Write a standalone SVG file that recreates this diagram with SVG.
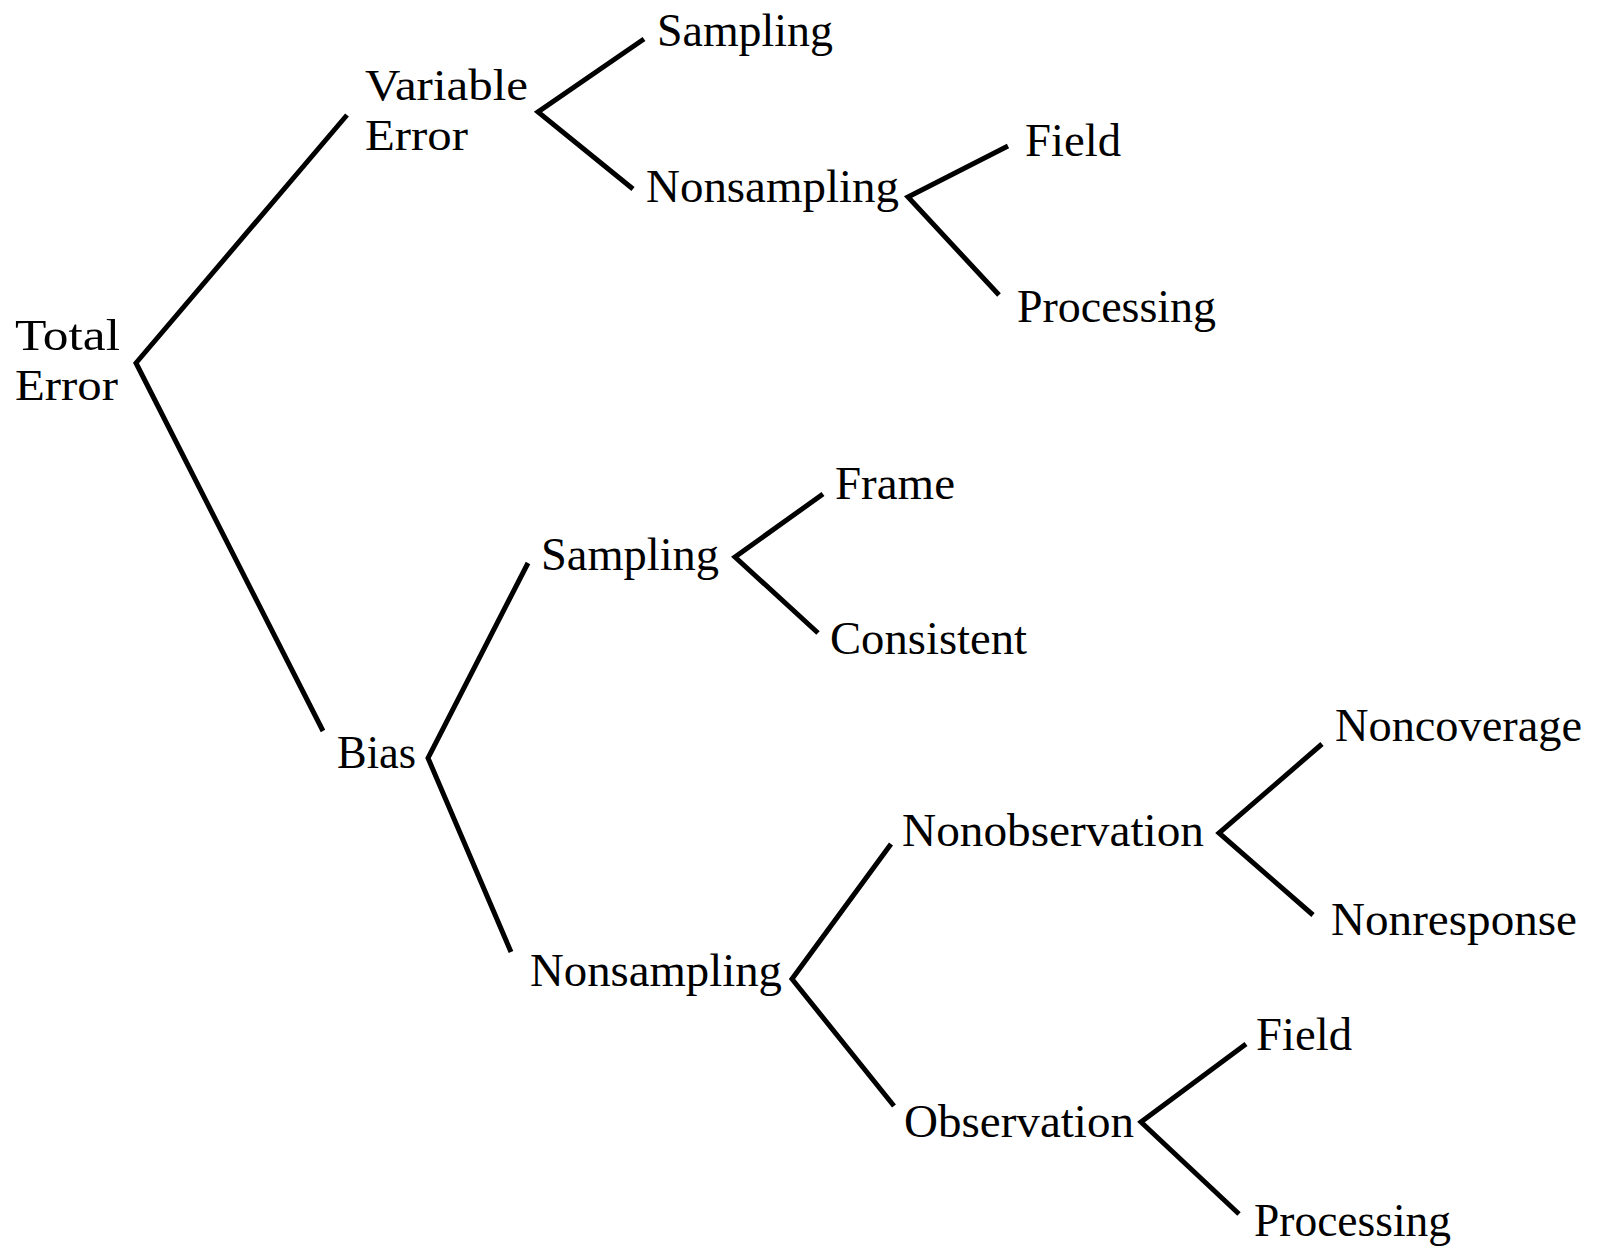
<svg xmlns="http://www.w3.org/2000/svg" width="1602" height="1252" viewBox="0 0 1602 1252">
<style>
.t{font-family:"Liberation Serif","Times New Roman",serif;font-size:47px;fill:#000}
.s{font-size:45px}
.c{fill:none;stroke:#000;stroke-width:5;stroke-linejoin:miter;stroke-linecap:butt}
</style>
<rect width="1602" height="1252" fill="#fff"/>
<g id="connectors">
<polyline class="c" points="347,115 136,363 323,731"/>
<polyline class="c" points="644,39 538,112 633,189"/>
<polyline class="c" points="1008,146 908,197 999,295"/>
<polyline class="c" points="528,563 428,758 511,952"/>
<polyline class="c" points="823,494 735,557 818,633"/>
<polyline class="c" points="891,844 792,979 894,1106"/>
<polyline class="c" points="1322,744 1219,833 1313,915"/>
<polyline class="c" points="1246,1044 1141,1122 1239,1214"/>
</g>
<g id="total-error"><text class="t s" x="15" y="350" textLength="105" lengthAdjust="spacingAndGlyphs">Total</text><text class="t s" x="15" y="400" textLength="103" lengthAdjust="spacingAndGlyphs">Error</text></g>
<g id="variable-error"><text class="t s" x="365" y="100" textLength="163" lengthAdjust="spacingAndGlyphs">Variable</text><text class="t s" x="365" y="150" textLength="103" lengthAdjust="spacingAndGlyphs">Error</text></g>
<g id="var-sampling"><text class="t" x="657" y="46" textLength="176" lengthAdjust="spacingAndGlyphs">Sampling</text></g>
<g id="var-nonsampling"><text class="t" x="646" y="202" textLength="253" lengthAdjust="spacingAndGlyphs">Nonsampling</text></g>
<g id="var-field"><text class="t" x="1025" y="156" textLength="96" lengthAdjust="spacingAndGlyphs">Field</text></g>
<g id="var-processing"><text class="t" x="1017" y="322" textLength="199" lengthAdjust="spacingAndGlyphs">Processing</text></g>
<g id="bias"><text class="t" x="337" y="768" textLength="79" lengthAdjust="spacingAndGlyphs">Bias</text></g>
<g id="bias-sampling"><text class="t" x="541" y="570" textLength="178" lengthAdjust="spacingAndGlyphs">Sampling</text></g>
<g id="frame"><text class="t" x="835" y="499" textLength="120" lengthAdjust="spacingAndGlyphs">Frame</text></g>
<g id="consistent"><text class="t" x="830" y="654" textLength="197" lengthAdjust="spacingAndGlyphs">Consistent</text></g>
<g id="bias-nonsampling"><text class="t" x="530" y="986" textLength="252" lengthAdjust="spacingAndGlyphs">Nonsampling</text></g>
<g id="nonobservation"><text class="t" x="902" y="846" textLength="302" lengthAdjust="spacingAndGlyphs">Nonobservation</text></g>
<g id="noncoverage"><text class="t" x="1335" y="741" textLength="247" lengthAdjust="spacingAndGlyphs">Noncoverage</text></g>
<g id="nonresponse"><text class="t" x="1331" y="935" textLength="246" lengthAdjust="spacingAndGlyphs">Nonresponse</text></g>
<g id="observation"><text class="t" x="904" y="1137" textLength="230" lengthAdjust="spacingAndGlyphs">Observation</text></g>
<g id="obs-field"><text class="t" x="1256" y="1050" textLength="96" lengthAdjust="spacingAndGlyphs">Field</text></g>
<g id="obs-processing"><text class="t" x="1254" y="1236" textLength="197" lengthAdjust="spacingAndGlyphs">Processing</text></g>
</svg>
